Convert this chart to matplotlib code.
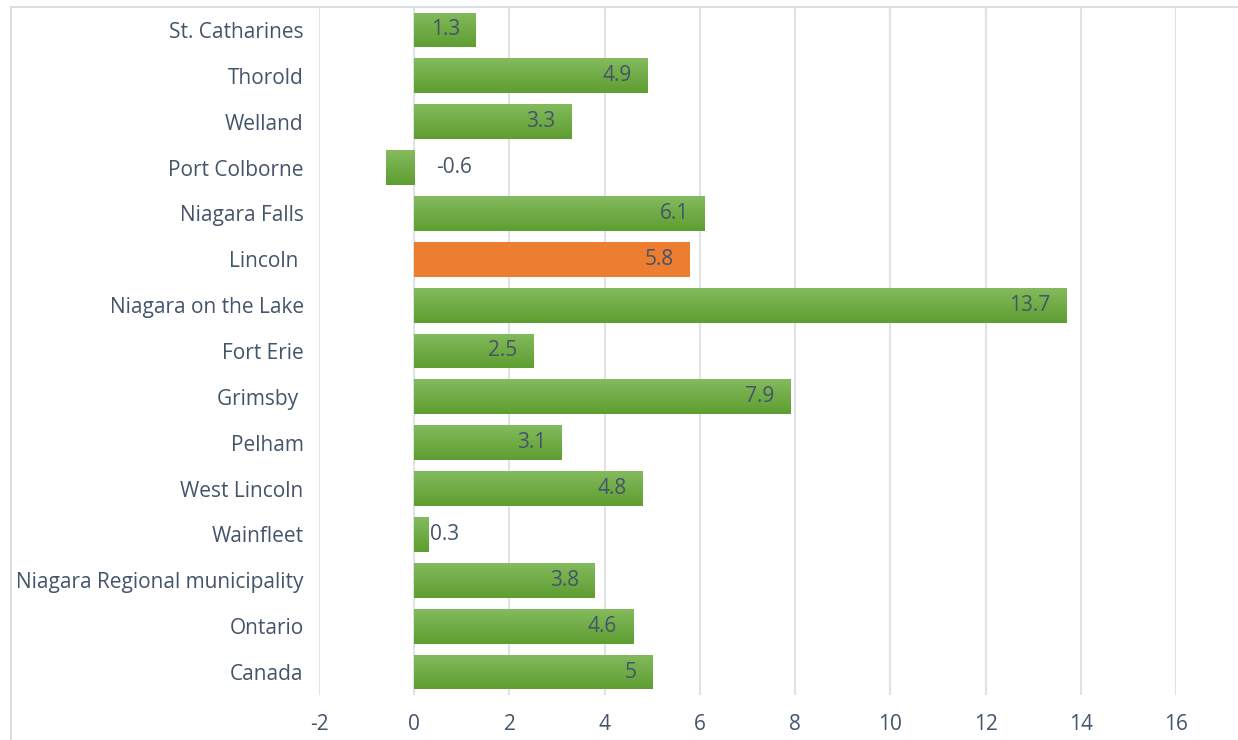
import numpy as np
import matplotlib.pyplot as plt
from matplotlib.patches import Rectangle
from matplotlib.colors import LinearSegmentedColormap

places = ["St. Catharines", "Thorold", "Welland", "Port Colborne", "Niagara Falls",
          "Lincoln ", "Niagara on the Lake", "Fort Erie", "Grimsby ", "Pelham",
          "West Lincoln", "Wainfleet", "Niagara Regional municipality", "Ontario", "Canada"]
growth = [1.3, 4.9, 3.3, -0.6, 6.1, 5.8, 13.7, 2.5, 7.9, 3.1, 4.8, 0.3, 3.8, 4.6, 5]
highlight = "Lincoln "
xticks = [-2, 0, 2, 4, 6, 8, 10, 12, 14, 16]

text_col = "#44546A"
grid_col = "#DFE3E8"
orange = "#ED7D31"
green_grad = LinearSegmentedColormap.from_list("g", ["#84BA5D", "#5E9E31"])

plt.rcParams['font.family'] = ['Open Sans', 'DejaVu Sans']
plt.rcParams['axes.unicode_minus'] = False

W, H = 1238, 740
fig = plt.figure(figsize=(W / 100, H / 100), dpi=100)
ax = fig.add_axes([319 / W, 1 - 695 / H, (1176 - 319) / W, (695 - 7) / H])

# outer chart border
fig.patches.append(Rectangle((11 / W, -0.1), 1.2, 1 - 7 / H + 0.1, transform=fig.transFigure,
                             fill=False, edgecolor="#D9DEE5", linewidth=1.5))

y = np.arange(len(places))
colors = [orange if p == highlight else "#70AD47" for p in places]
bars = ax.barh(y, growth, height=0.76, color=colors, zorder=2)

# vertical gradient on the green bars
grad = np.linspace(0, 1, 64).reshape(-1, 1)
for b, p in zip(bars, places):
    if p == highlight:
        continue
    x0, y0 = b.get_x(), b.get_y()
    w, h = b.get_width(), b.get_height()
    im = ax.imshow(grad, cmap=green_grad, aspect="auto", origin="upper",
                   extent=(x0, x0 + w, y0 + h, y0), zorder=3)
    im.set_clip_path(b)

for yi, v in zip(y, growth):
    label = f"{v:g}"
    if v < 0:
        ax.annotate(label, (0, yi), xytext=(22, 0), textcoords="offset pixels",
                    ha="left", va="center", color=text_col, fontsize=15, zorder=4)
    elif v < 0.8:
        ax.annotate(label, (v, yi), xytext=(1, 0), textcoords="offset pixels",
                    ha="left", va="center", color=text_col, fontsize=15, zorder=4)
    else:
        ax.annotate(label, (v, yi), xytext=(-16, 0), textcoords="offset pixels",
                    ha="right", va="center", color=text_col, fontsize=15, zorder=4)

ax.set_xlim(-2, 16)
ax.set_ylim(len(places) - 0.5, -0.5)
ax.set_xticks(xticks)
ax.set_yticks(y)
ax.set_yticklabels(places)
ax.tick_params(axis="both", length=0, labelsize=15, colors=text_col)
ax.tick_params(axis="y", pad=11)
ax.tick_params(axis="x", pad=14)
ax.grid(axis="x", color=grid_col, linewidth=1.5, zorder=0)
ax.set_axisbelow(True)
for s in ax.spines.values():
    s.set_visible(False)

fig.savefig("out.png", dpi=100)
